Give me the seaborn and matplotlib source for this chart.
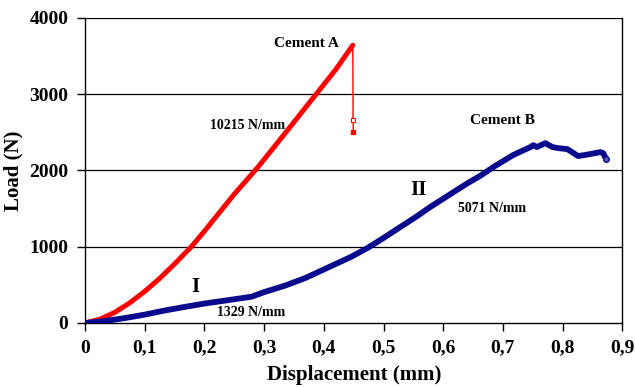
import numpy as np
import pandas as pd
import seaborn as sns
import matplotlib.pyplot as plt

# Cement A: carga x deslocamento
desl_a = [0.0, 0.025, 0.05, 0.075, 0.1, 0.125, 0.15, 0.178, 0.2, 0.225, 0.25,
          0.288, 0.3, 0.325, 0.35, 0.388, 0.42, 0.4485]
carga_a = [0, 50, 140, 265, 415, 585, 775, 1000, 1205, 1448, 1690,
           2030, 2145, 2390, 2635, 3010, 3325, 3643]

# queda depois da ruptura
desl_queda = [0.4485, 0.449, 0.4495]
carga_queda = [3643, 2660, 2503]

# Cement B
desl_b = [0.0, 0.03, 0.067, 0.1, 0.134, 0.17, 0.2, 0.24, 0.279, 0.3, 0.335, 0.369,
          0.416, 0.445, 0.473, 0.5, 0.528, 0.555, 0.578, 0.612, 0.64, 0.662,
          0.687, 0.717, 0.746, 0.751, 0.757, 0.771, 0.783, 0.793, 0.808,
          0.826, 0.846, 0.863, 0.868, 0.873]
carga_b = [0, 22, 65, 110, 165, 215, 255, 300, 345, 405, 490, 590,
           760, 865, 983, 1115, 1258, 1395, 1520, 1690, 1830, 1930,
           2060, 2202, 2307, 2333, 2307, 2359, 2307, 2293, 2280,
           2189, 2215, 2241, 2228, 2150]

xticks = [0, 0.1, 0.2, 0.3, 0.4, 0.5, 0.6, 0.7, 0.8, 0.9]
xtick_labels = ["0", "0,1", "0,2", "0,3", "0,4", "0,5", "0,6", "0,7", "0,8", "0,9"]
yticks = [0, 1000, 2000, 3000, 4000]

sns.set_theme(style="ticks")
plt.rcParams['font.family'] = ['Liberation Serif', 'DejaVu Serif']
plt.rcParams['font.weight'] = 'bold'

fig = plt.figure(figsize=(6.35, 3.87), dpi=100)
ax = fig.add_axes([0.134, 0.1654, 0.846, 0.7881])

df_a = pd.DataFrame({"x": desl_a, "y": carga_a})
df_q = pd.DataFrame({"x": desl_queda, "y": carga_queda})
df_b = pd.DataFrame({"x": desl_b, "y": carga_b})

for yv in yticks[1:]:
    ax.axhline(yv, color="black", lw=0.9, zorder=1)

sns.lineplot(data=df_a, x="x", y="y", sort=False, color="#ff0000", lw=3.6, ax=ax, zorder=3)
sns.lineplot(data=df_q, x="x", y="y", sort=False, color="#ff0000", lw=1.0, ax=ax, zorder=3)
ax.plot(desl_queda[1], carga_queda[1], marker="s", ms=3.5, mfc="white", mec="#ff0000", mew=0.8, zorder=4)
ax.plot(desl_queda[2], carga_queda[2], marker="s", ms=3.5, color="#ff0000", zorder=4)
sns.lineplot(data=df_b, x="x", y="y", sort=False, color="#0a0a8c", lw=4.2, ax=ax, zorder=3)
ax.plot(desl_b[-1], carga_b[-1], marker="o", ms=4, mfc="#5a5ab0", mec="#0a0a8c", zorder=4)

ax.set_xlim(0, 0.9)
ax.set_ylim(0, 4000)
ax.set_xticks(xticks)
ax.set_xticklabels(xtick_labels)
ax.set_yticks(yticks)
ax.tick_params(axis="both", labelsize=14, length=6, width=1, color="black",
               labelcolor="black", pad=6)
for lab in ax.get_xticklabels() + ax.get_yticklabels():
    lab.set_fontweight("bold")

for s in ax.spines.values():
    s.set_color("black")
    s.set_linewidth(1.0)
ax.spines["top"].set_visible(False)

ax.set_xlabel("Displacement (mm)", fontsize=15, fontweight="bold", labelpad=6, color="black")
ax.set_ylabel("Load (N)", fontsize=15, fontweight="bold", labelpad=4, color="black")

txt = dict(fontweight="bold", ha="center", va="center", color="black")
ax.text(0.370, 3672, "Cement A", fontsize=11, **txt)
ax.text(0.272, 2584, "10215 N/mm", fontsize=10, **txt)
ax.text(0.700, 2650, "Cement B", fontsize=11, **txt)
ax.text(0.558, 1744, "II", fontsize=15, **txt)
ax.text(0.682, 1508, "5071 N/mm", fontsize=10, **txt)
ax.text(0.184, 472, "I", fontsize=15, **txt)
ax.text(0.278, 144, "1329 N/mm", fontsize=10, **txt)

fig.savefig("out.png", dpi=100)
